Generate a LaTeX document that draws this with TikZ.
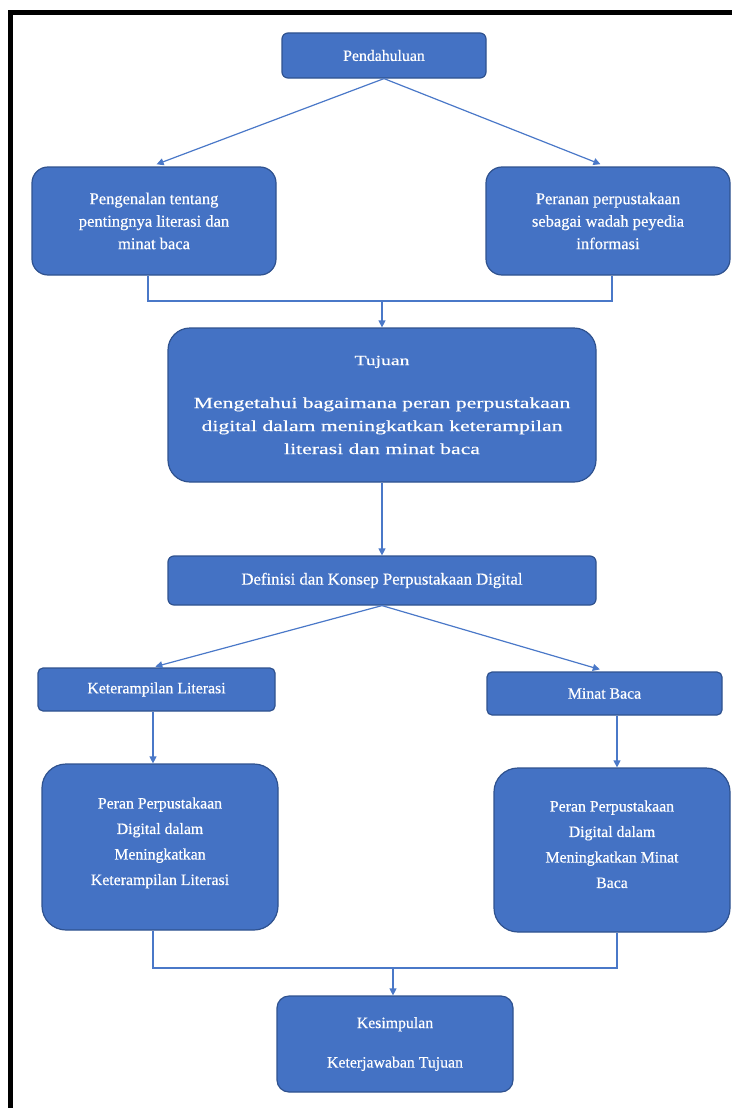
\documentclass[tikz,border=0pt]{standalone}
\usepackage{fontspec}
\setmainfont{Liberation Serif}[FakeBold=0.5]
\newfontfamily\widefont{Liberation Serif}[FakeStretch=1.4,FakeBold=0.5]
\usetikzlibrary{arrows.meta}
\definecolor{boxblue}{HTML}{4472C4}
\definecolor{boxedge}{HTML}{2F528F}
\definecolor{linkblue}{HTML}{4A78C8}
\newcommand{\tjline}[1]{{\widefont\fontsize{15.5}{23}\selectfont #1}}

\begin{document}
\begin{tikzpicture}[x=1pt,y=-1pt,
    box/.style={rectangle, draw=boxedge, line width=1.2pt, fill=boxblue, text=white, align=center, inner sep=0pt, font=\fontsize{15.8}{25.5}\selectfont},
    link/.style={-{Triangle[length=7pt,width=7pt]}, draw=linkblue, line width=1.2pt},
    elbow/.style={draw=linkblue, line width=1.2pt}
    ]
    \useasboundingbox (0,0) rectangle (732,1108);
    % frame
    \draw[line width=4.5pt] (10.5,1108) -- (10.5,12.5) -- (732,12.5);

    % top part
    \node[box, rounded corners=6pt, minimum width=204pt, minimum height=45pt] (pend) at (384,55.5) {Pendahuluan};
    \node[box, rounded corners=16pt, minimum width=244pt, minimum height=108pt, font=\fontsize{16.5}{22.5}\selectfont] (peng) at (154,221)
      {Pengenalan tentang\\ pentingnya literasi dan\\ minat baca};
    \node[box, rounded corners=16pt, minimum width=244pt, minimum height=108pt, font=\fontsize{16.5}{22.5}\selectfont] (peran) at (608,221)
      {Peranan perpustakaan\\ sebagai wadah peyedia\\ informasi};
    \node[box, rounded corners=22pt, minimum width=428pt, minimum height=154pt, font=\fontsize{15.5}{23}\selectfont] (tujuan) at (382,405)
      {{\widefont\fontsize{14}{20}\selectfont Tujuan}\\[20pt] \tjline{Mengetahui bagaimana peran perpustakaan}\\
       \tjline{digital dalam meningkatkan keterampilan}\\ \tjline{literasi dan minat baca}};

    \draw[link, shorten >=6pt] (pend.south) -- ([xshift=-3pt]peng.north);
    \draw[link, shorten >=6pt] (pend.south) -- ([xshift=-2pt]peran.north);
    \coordinate (join1) at (382,301);
    \draw[elbow] ([xshift=-6pt]peng.south) |- (join1) -| ([xshift=4pt]peran.south);
    \draw[link] (join1) -- (tujuan.north);

    % middle part
    \node[box, rounded corners=6pt, minimum width=428pt, minimum height=49pt, font=\fontsize{16.7}{20}\selectfont] (def) at (382,580.5)
      {Definisi dan Konsep Perpustakaan Digital};
    \draw[link] (tujuan.south) -- (def.north);

    \node[box, rounded corners=5pt, minimum width=237pt, minimum height=43pt] (ket) at (156.5,689.5) {Keterampilan Literasi};
    \node[box, rounded corners=5pt, minimum width=235pt, minimum height=43pt] (minat) at (604.5,693.5) {Minat Baca};
    \draw[link, shorten >=3pt] (def.south) -- ([xshift=-4pt]ket.north);
    \draw[link, shorten >=7pt] (def.south) -- ([xshift=2pt]minat.north);

    % bottom part
    \node[box, rounded corners=24pt, minimum width=236pt, minimum height=166pt] (perL) at (160,847)
      {Peran Perpustakaan\\ Digital dalam\\ Meningkatkan\\ Keterampilan Literasi\\[-14pt]\mbox{}};
    \node[box, rounded corners=24pt, minimum width=236pt, minimum height=164pt] (perR) at (612,850)
      {Peran Perpustakaan\\ Digital dalam\\ Meningkatkan Minat\\ Baca\\[-14pt]\mbox{}};
    \draw[link] ([xshift=-3.5pt]ket.south) -- ([xshift=-3.5pt]ket.south |- perL.north);
    \draw[link] ([xshift=12.5pt]minat.south) -- ([xshift=12.5pt]minat.south |- perR.north);

    \node[box, rounded corners=12pt, minimum width=236pt, minimum height=96pt] (kes) at (395,1044)
      {Kesimpulan\\[14pt] Keterjawaban Tujuan};
    \coordinate (join2) at (393,968);
    \draw[elbow] ([xshift=-7pt]perL.south) |- (join2) -| ([xshift=5pt]perR.south);
    \draw[link] (join2) -- (join2 |- kes.north);
\end{tikzpicture}
\end{document}
